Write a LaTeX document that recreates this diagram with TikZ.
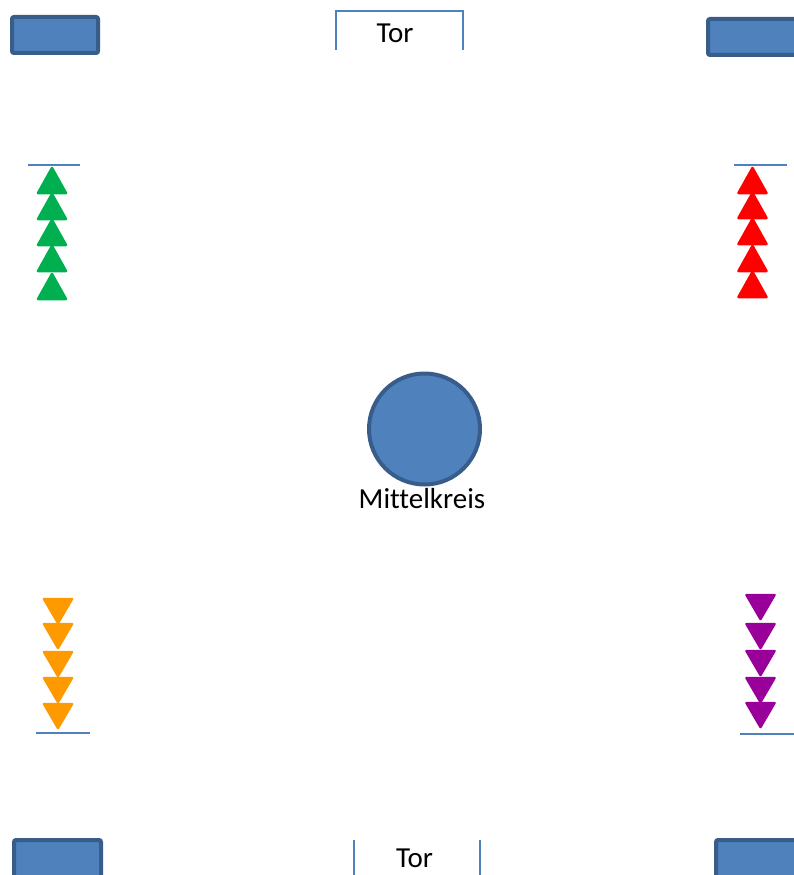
\documentclass[tikz,border=0pt]{standalone}
\usepackage{fontspec}
\setmainfont[Ligatures=NoCommon]{Carlito}
\definecolor{boxfill}{HTML}{4F81BD}
\definecolor{boxedge}{HTML}{385D8A}
\definecolor{goalline}{HTML}{4F81BD}
\definecolor{tgreen}{HTML}{00B050}
\definecolor{tred}{HTML}{FF0000}
\definecolor{torange}{HTML}{FF9900}
\definecolor{tpurple}{HTML}{990099}
\begin{document}
\begin{tikzpicture}[x=1pt,y=-1pt,
  cornerbox/.style={fill=boxfill,draw=boxedge,line width=4pt,rounded corners=2pt},
  goal/.style={draw=goalline,line width=1.8pt},
  label/.style={font=\fontsize{29}{34}\selectfont,anchor=base,inner sep=0pt},
  tri/.style={line width=2.5pt,line join=round}]
\useasboundingbox (0,0) rectangle (794,875);
% corner boxes
\path[cornerbox] (12,17) rectangle (98,53);
\path[cornerbox] (708,19) rectangle (800,55);
\path[cornerbox] (14,840) rectangle (101,885);
\path[cornerbox] (716,840) rectangle (800,885);
% goals
\draw[goal] (336,50) -- (336,11) -- (463,11) -- (463,50);
\draw[goal] (354,840) -- (354,875);
\draw[goal] (480,840) -- (480,875);
\node[label] (tortop) at (395,43) {Tor};
\node[label] (torbot) at (414.5,867) {Tor};
% center circle
\path[fill=boxfill,draw=boxedge,line width=4pt] (424.5,429) circle (55.5);
\node[label] (mk) at (422,508) {Mittelkreis};
% lines
\draw[goal] (28,165) -- (80,165);
\draw[goal] (734,165) -- (787,165);
\draw[goal] (36,733) -- (90,733);
\draw[goal] (740,734) -- (794,734);
% green up triangles
\foreach \t in {168,194,220,246,274}
  \path[tri,fill=tgreen,draw=tgreen] (52,\t) -- (66,\t+25) -- (38,\t+25) -- cycle;
% red up triangles
\foreach \t in {168,193,219,246,272}
  \path[tri,fill=tred,draw=tred] (752.5,\t) -- (766.5,\t+25) -- (738.5,\t+25) -- cycle;
% orange down triangles
\foreach \t in {599,624,652,678,704}
  \path[tri,fill=torange,draw=torange] (44,\t) -- (72,\t) -- (58,\t+24) -- cycle;
% purple down triangles
\foreach \t in {595,624,651,678,703}
  \path[tri,fill=tpurple,draw=tpurple] (746.5,\t) -- (774.5,\t) -- (760.5,\t+24) -- cycle;
\end{tikzpicture}
\end{document}
